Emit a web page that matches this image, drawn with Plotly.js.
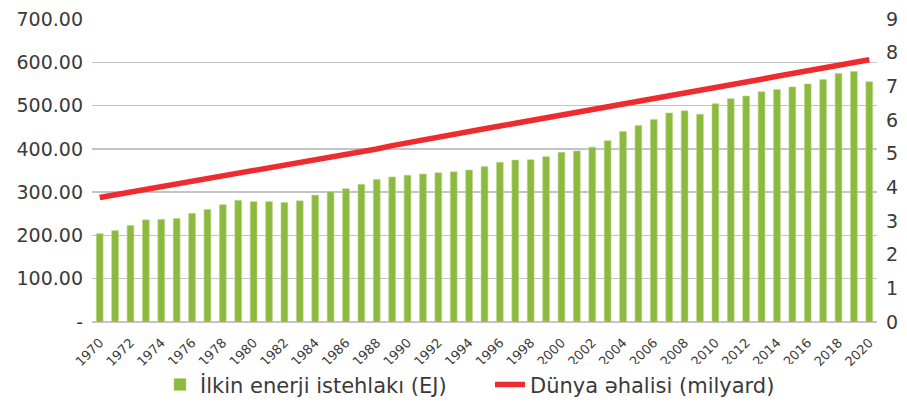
<!DOCTYPE html>
<html>
<head>
<meta charset="utf-8">
<script src="https://cdn.plot.ly/plotly-3.0.1.min.js"></script>
<style>html,body{margin:0;padding:0;background:#fff;}#chart{width:907px;height:409px;}</style>
</head>
<body>
<div id="chart"></div>
<script>
const years = [1970,1971,1972,1973,1974,1975,1976,1977,1978,1979,1980,1981,1982,1983,1984,1985,1986,1987,1988,1989,1990,1991,1992,1993,1994,1995,1996,1997,1998,1999,2000,2001,2002,2003,2004,2005,2006,2007,2008,2009,2010,2011,2012,2013,2014,2015,2016,2017,2018,2019,2020];
const energyEJ = [204,211,223,236,237,239,251,260,271,281,278,278,276,280,293,301,308,318,329,335,339,342,345,347,351,359,369,374,375,382,392,395,404,419,440,454,468,483,488,480,504,516,522,532,537,543,550,560,574,579,555];
const populationBn = [3.70,3.78,3.85,3.93,4.00,4.08,4.15,4.23,4.30,4.38,4.46,4.54,4.62,4.71,4.79,4.87,4.96,5.05,5.14,5.24,5.33,5.41,5.50,5.58,5.66,5.74,5.82,5.90,5.98,6.06,6.14,6.22,6.30,6.38,6.46,6.54,6.62,6.71,6.79,6.87,6.96,7.04,7.13,7.21,7.30,7.38,7.46,7.55,7.63,7.71,7.79];
const leftTickVals = [0,100,200,300,400,500,600,700];
const leftTickText = ["-","100.00","200.00","300.00","400.00","500.00","600.00","700.00"];
const seriesNames = ["İlkin enerji istehlakı (EJ)", "Dünya əhalisi (milyard)"];

const FONT = "DejaVu Sans, sans-serif";
const TXT = "#3a3a3a";

const traces = [
  {
    type: "bar", x: years, y: energyEJ, name: seriesNames[0],
    marker: {color: "#8cba3f", line: {color: "#b9d58a", width: 0.6}},
    yaxis: "y", hoverinfo: "x+y"
  },
  {
    type: "scatter", mode: "lines", x: years, y: populationBn, name: seriesNames[1],
    line: {color: "#ee2b2e", width: 5.5, shape: "linear"},
    yaxis: "y2"
  }
];

const layout = {
  width: 907, height: 409,
  margin: {l: 92, r: 30, t: 19, b: 87, autoexpand: false},
  paper_bgcolor: "#fff", plot_bgcolor: "#fff",
  font: {family: FONT, color: TXT, size: 18},
  bargap: 0.56,
  showlegend: true,
  legend: {
    orientation: "h", x: 160 / 907, xref: "container", xanchor: "left",
    y: 0.059, yref: "container", yanchor: "middle",
    font: {family: FONT, size: 21, color: TXT}, itemwidth: 30, traceorder: "normal",
    entrywidth: 285, entrywidthmode: "pixels"
  },
  xaxis: {
    type: "linear", range: [1969.5, 2020.5], tick0: 1970, dtick: 2,
    tickangle: -45, tickfont: {family: FONT, size: 13, color: TXT},
    showgrid: false, zeroline: false, showline: false, ticks: "outside", ticklen: 3, tickcolor: "rgba(0,0,0,0)",
    ticklabelstandoff: 4, automargin: false
  },
  yaxis: {
    range: [0, 700], tickvals: leftTickVals, ticktext: leftTickText,
    showgrid: true, gridcolor: "#c4c4c6", gridwidth: 1.5,
    zeroline: true, zerolinecolor: "#c4c4c6", zerolinewidth: 1.5,
    tickfont: {family: FONT, size: 19, color: TXT}, ticklabelstandoff: 8, automargin: false
  },
  yaxis2: {
    range: [0, 9], dtick: 1, tick0: 0, overlaying: "y", side: "right",
    showgrid: false, zeroline: false,
    tickfont: {family: FONT, size: 19, color: TXT}, ticklabelstandoff: 8, automargin: false
  }
};

Plotly.newPlot("chart", traces, layout, {displayModeBar: false, staticPlot: true});
</script>
</body>
</html>
